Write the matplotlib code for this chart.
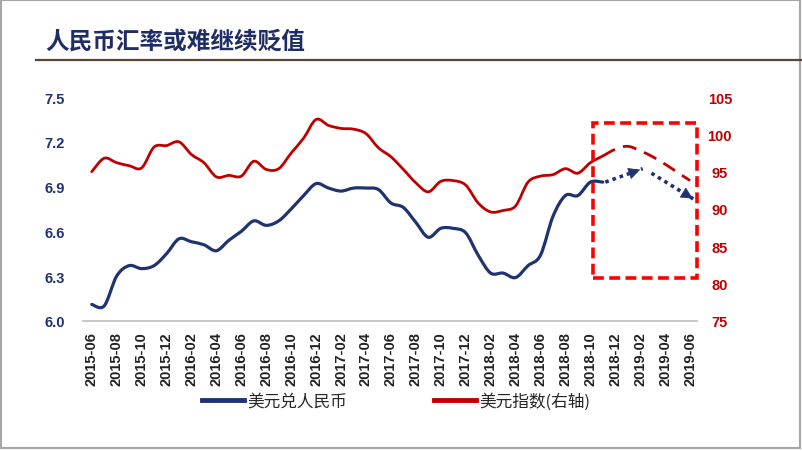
import matplotlib
matplotlib.use("Agg")
import matplotlib.pyplot as plt
from matplotlib.lines import Line2D
from matplotlib.patches import Rectangle, PathPatch
from matplotlib.path import Path

# month labels every 2 months, 2015-06 .. 2019-06 (49 monthly slots)
months = []
for y in range(2015, 2020):
    for m in range(1, 13):
        if (y == 2015 and m < 6) or (y == 2019 and m > 6):
            continue
        months.append(f"{y}-{m:02d}")
tick_labels = months[::2]

# USD/CNY monthly, 2015-06 .. 2018-11
usdcny = [6.11, 6.10, 6.30, 6.37, 6.35, 6.37, 6.45, 6.55, 6.53, 6.51,
          6.47, 6.54, 6.60, 6.67, 6.64, 6.67, 6.75, 6.84, 6.92, 6.89,
          6.87, 6.89, 6.89, 6.88, 6.79, 6.76, 6.66, 6.56, 6.62, 6.62,
          6.59, 6.44, 6.32, 6.32, 6.29, 6.37, 6.44, 6.70, 6.84, 6.84,
          6.93, 6.93]

# dollar index monthly, 2015-06 .. 2018-11
dxy = [95.0, 96.8, 96.2, 95.8, 95.5, 98.3, 98.5, 99.0, 97.3, 96.2,
       94.3, 94.5, 94.4, 96.4, 95.3, 95.4, 97.5, 99.5, 102.0, 101.2,
       100.8, 100.7, 100.1, 98.2, 97.0, 95.3, 93.5, 92.3, 93.7, 93.8,
       93.2, 90.8, 89.6, 89.8, 90.4, 93.6, 94.4, 94.6, 95.4, 94.8,
       96.2, 97.1]

# dollar index forecast, 2018-11 .. 2019-06
dxy_fc = [97.1, 98.0, 98.4, 97.8, 97.0, 96.0, 94.9, 93.8]

# forecast arrows for USD/CNY: (start idx, start val, end idx, end val)
arrows = [(41.2, 6.93, 44.2, 7.02), (44.9, 6.99, 48.4, 6.81)]

navy = "#1F3370"
red = "#C00000"


def smooth_path(xs, ys):
    """Excel-style smoothed line: Catmull-Rom through the points as Bezier."""
    pts = list(zip(xs, ys))
    n = len(pts)
    verts = [pts[0]]
    codes = [Path.MOVETO]
    for i in range(n - 1):
        p0 = pts[i - 1] if i > 0 else pts[i]
        p1 = pts[i]
        p2 = pts[i + 1]
        p3 = pts[i + 2] if i + 2 < n else pts[i + 1]
        c1 = (p1[0] + (p2[0] - p0[0]) / 6, p1[1] + (p2[1] - p0[1]) / 6)
        c2 = (p2[0] - (p3[0] - p1[0]) / 6, p2[1] - (p3[1] - p1[1]) / 6)
        verts += [c1, c2, p2]
        codes += [Path.CURVE4] * 3
    return Path(verts, codes)


fig = plt.figure(figsize=(8.02, 4.52), dpi=100)
ax = fig.add_axes([0.1035, 0.288, 0.7655, 0.495])
ax2 = ax.twinx()

ax.add_patch(PathPatch(smooth_path(range(len(usdcny)), usdcny), fill=False,
                       edgecolor=navy, lw=2.3, joinstyle="round",
                       capstyle="round", zorder=3))
ax2.add_patch(PathPatch(smooth_path(range(len(dxy)), dxy), fill=False,
                        edgecolor=red, lw=2.0, joinstyle="round",
                        capstyle="round", zorder=3))
x_fc = list(range(len(dxy) - 1, len(dxy) - 1 + len(dxy_fc)))
ax2.add_patch(PathPatch(smooth_path(x_fc, dxy_fc), fill=False,
                        edgecolor=red, lw=2.0, ls=(0, (5, 3)), zorder=3))

for x0, y0, x1, y1 in arrows:
    ax.plot([x0, x1], [y0, y1], color=navy, lw=2.6, ls=(0, (1, 1.1)),
            zorder=4)
    ax.annotate("", xy=(x1, y1),
                xytext=(x0 + (x1 - x0) * 0.8, y0 + (y1 - y0) * 0.8),
                arrowprops=dict(arrowstyle="-|>", color=navy, lw=0.5,
                                mutation_scale=19), zorder=5)

# dashed highlight box
ax2.add_patch(Rectangle((40.2, 80.8), 8.35, 20.7, fill=False,
                        edgecolor="#FF0000", lw=2.6, ls=(0, (3, 1.5)),
                        clip_on=False, zorder=6))

ax.set_xlim(-0.7, 48.55)
ax.set_ylim(6.0, 7.5)
ax2.set_ylim(75, 105)
ax.set_yticks([6.0, 6.3, 6.6, 6.9, 7.2, 7.5])
ax.set_yticklabels(["6.0", "6.3", "6.6", "6.9", "7.2", "7.5"])
ax2.set_yticks([75, 80, 85, 90, 95, 100, 105])
ax.set_xticks(range(0, len(months), 2))
ax.set_xticklabels(tick_labels, rotation=90)

for a in (ax, ax2):
    for s in a.spines.values():
        s.set_visible(False)
ax.spines["bottom"].set_visible(True)
ax.spines["bottom"].set_color("#BFBFBF")
ax.spines["bottom"].set_linewidth(1.2)

ax.tick_params(axis="x", length=0, pad=7.5)
ax.tick_params(axis="y", length=0, pad=13, colors=navy)
ax2.tick_params(axis="y", length=0, pad=16.5, colors=red)
for t in ax.get_xticklabels():
    t.set_fontfamily("Liberation Sans")
    t.set_fontweight("bold")
    t.set_fontsize(10.5)
    t.set_color("#222222")
for t in ax.get_yticklabels():
    t.set_fontfamily("Liberation Sans")
    t.set_fontweight("bold")
    t.set_fontsize(10.5)
for t in ax2.get_yticklabels():
    t.set_fontfamily("Liberation Sans")
    t.set_fontweight("bold")
    t.set_fontsize(10.5)
    t.set_horizontalalignment("center")

# legend
handles = [Line2D([], [], color=navy, lw=3.5), Line2D([], [], color=red, lw=3.5)]
fig.legend(handles, ["美元兑人民币", "美元指数(右轴)"], loc="center",
           bbox_to_anchor=(0.494, 1 - 402 / 452), ncol=2, frameon=False,
           prop={"family": ["Noto Sans CJK SC", "DejaVu Sans"], "size": 12,
                 "weight": "medium"},
           handlelength=2.5, handletextpad=0.2, columnspacing=5.2,
           labelcolor="#262626")

# title and underline
fig.text(45 / 802, 1 - 42 / 452, "人民币汇率或难继续贬值", fontsize=17,
         fontweight="heavy", color="#1F2D64", va="center", ha="left",
         family=["Noto Sans CJK SC", "DejaVu Sans"])
fig.add_artist(Line2D([36 / 802, 1.0], [1 - 61 / 452, 1 - 61 / 452],
                      color="#5A4636", lw=1.6))

# slide frame
fig.add_artist(Rectangle((0.001, 0.006), 0.997, 0.992, fill=False,
                         edgecolor="#A6A6A6", lw=1.5,
                         transform=fig.transFigure))

fig.savefig("out.png", dpi=100)
